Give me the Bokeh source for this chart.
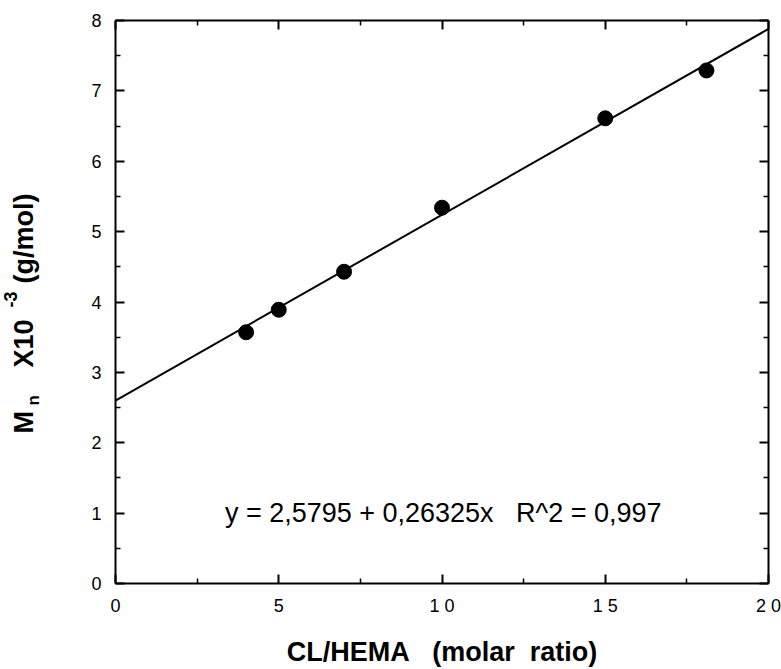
from bokeh.plotting import figure
from bokeh.models import Range1d, LinearAxis, FixedTicker, Label
from bokeh.layouts import row
from bokeh.embed import file_html
from bokeh.resources import INLINE
from math import pi

# data
ratio = [4, 5, 7, 10, 15, 18.1]
mn = [3.57, 3.89, 4.43, 5.34, 6.61, 7.29]
fit_x = [0, 20]
fit_y = [2.60, 7.88]
x_ticks = [0, 5, 10, 15, 20]
x_tick_labels = ["0", "5", "1 0", "1 5", "2 0"]
y_ticks = [0, 1, 2, 3, 4, 5, 6, 7, 8]
equation = "y = 2,5795 + 0,26325x\u00a0\u00a0\u00a0R^2 = 0,997"
x_title = "CL/HEMA\u00a0\u00a0\u00a0(molar\u00a0\u00a0ratio)"

FONT = "Liberation Sans"
LABEL_W = 60
FRAME_BOTTOM = 583   # canvas y of the plot frame's bottom (frames of the row are aligned)
OFF = 10             # horizontal offset of the label panel's frame

p = figure(width=781 - LABEL_W, height=669, output_backend="svg", toolbar_location=None,
           x_range=Range1d(0, 20), y_range=Range1d(0, 8),
           min_border_left=115 - LABEL_W, min_border_right=13, min_border_top=20, min_border_bottom=86,
           x_axis_location=None, y_axis_location=None)
p.grid.visible = False
p.outline_line_color = None
p.background_fill_color = "white"
p.border_fill_color = "white"

def style_axis(ax, ticks, show_labels, overrides=None):
    ax.ticker = FixedTicker(ticks=ticks, minor_ticks=[t + (ticks[1] - ticks[0]) / 2 for t in ticks[:-1]])
    ax.axis_line_width = 2
    ax.axis_line_color = "black"
    ax.major_tick_in = 9
    ax.major_tick_out = 0
    ax.minor_tick_in = 5
    ax.minor_tick_out = 0
    ax.major_tick_line_width = 2
    ax.minor_tick_line_width = 1.5
    ax.major_tick_line_color = "black"
    ax.minor_tick_line_color = "black"
    ax.major_label_text_font = FONT
    if show_labels:
        ax.major_label_text_font_size = "18px"
        ax.major_label_text_color = "black"
        ax.major_label_standoff = 13
        if overrides:
            ax.major_label_overrides = overrides
    else:
        ax.major_label_overrides = {t: "" for t in ticks}
        ax.major_label_standoff = 0

bottom = LinearAxis()
style_axis(bottom, x_ticks, True, {t: l for t, l in zip(x_ticks, x_tick_labels)})
bottom.major_label_standoff = 12
bottom.axis_label = x_title
bottom.axis_label_text_font = FONT
bottom.axis_label_text_font_size = "27px"
bottom.axis_label_text_font_style = "bold"
bottom.axis_label_text_color = "black"
bottom.axis_label_standoff = 18
top = LinearAxis()
style_axis(top, x_ticks, False)
left = LinearAxis()
style_axis(left, y_ticks, True)
left.major_label_standoff = 14
right = LinearAxis()
style_axis(right, y_ticks, False)
p.add_layout(bottom, "below")
p.add_layout(top, "above")
p.add_layout(left, "left")
p.add_layout(right, "right")

p.line(fit_x, fit_y, line_color="black", line_width=2)
p.scatter(ratio, mn, size=15, fill_color="black", line_color="black")

p.add_layout(Label(x=3.35, y=1.0, text=equation, text_font=FONT, text_font_size="27px",
                   text_color="black", text_baseline="alphabetic", text_align="left"))

# separate narrow panel carrying the y axis title: M_n X10^-3 (g/mol)
ly = figure(width=LABEL_W, height=669, output_backend="svg", toolbar_location=None,
            x_range=Range1d(0, 1), y_range=Range1d(0, 1),
            min_border_left=0, min_border_right=0, min_border_top=20, min_border_bottom=86,
            x_axis_location=None, y_axis_location=None)
ly.grid.visible = False
ly.outline_line_color = None
ly.background_fill_color = "white"
ly.border_fill_color = "white"

def ylab(text, base_x, start_y, size):
    ly.add_layout(Label(x=base_x - OFF, y=FRAME_BOTTOM - start_y, x_units="screen", y_units="screen",
                        text=text, angle=pi / 2, text_font=FONT, text_font_size=size,
                        text_font_style="bold", text_align="left", text_baseline="alphabetic",
                        text_color="black"))

ylab("M", 33, 433, "27px")
ylab("n", 43, 405, "17px")
ylab("X10", 33, 367, "27px")
ylab("-3", 20, 307, "18px")
ylab("(g/mol)", 33, 283, "27px")

layout = row(ly, p, spacing=0)
open("out.html", "w").write(file_html(layout, INLINE))
